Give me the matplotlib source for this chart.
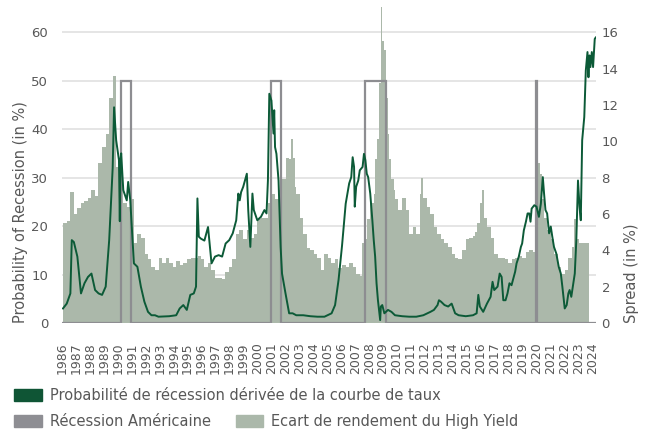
import matplotlib.pyplot as plt
import numpy as np
from matplotlib.patches import Patch

# probability of recession derived from the yield curve (left axis, %)
prob_years = [
    1986.07, 1986.34, 1986.6, 1986.7, 1986.85, 1987.1, 1987.36, 1987.61, 1987.86,
    1988.11, 1988.37, 1988.62, 1988.87, 1989.13, 1989.38, 1989.63, 1989.73, 1989.88,
    1990.08, 1990.14, 1990.19, 1990.24, 1990.39, 1990.64, 1990.74, 1990.89, 1991.15,
    1991.4, 1991.65, 1991.9, 1992.16, 1992.41, 1992.66, 1992.91, 1993.68, 1994.18,
    1994.43, 1994.69, 1994.94, 1995.19, 1995.44, 1995.6, 1995.7, 1995.8, 1995.95,
    1996.2, 1996.46, 1996.71, 1996.96, 1997.22, 1997.47, 1997.72, 1997.98, 1998.23,
    1998.48, 1998.63, 1998.73, 1998.83, 1998.98, 1999.24, 1999.34, 1999.49, 1999.64,
    1999.74, 1999.99, 2000.25, 2000.5, 2000.65, 2000.75, 2000.85, 2001.0, 2001.15,
    2001.2, 2001.26, 2001.36, 2001.51, 2001.66, 2001.76, 2002.01, 2002.27, 2002.52,
    2002.78, 2003.28, 2003.79, 2004.3, 2004.8, 2005.31, 2005.56, 2005.81, 2006.06,
    2006.32, 2006.57, 2006.72, 2006.82, 2006.92, 2006.97, 2007.07, 2007.22, 2007.33,
    2007.53, 2007.63, 2007.73, 2007.83, 2007.93, 2008.08, 2008.23, 2008.33, 2008.43,
    2008.53, 2008.63, 2008.74, 2008.79, 2008.84, 2008.94, 2009.09, 2009.35, 2009.6,
    2009.85, 2010.37, 2010.87, 2011.38, 2011.88, 2012.39, 2012.64, 2012.9, 2013.0,
    2013.15, 2013.4, 2013.66, 2013.91, 2014.16, 2014.41, 2014.92, 2015.44, 2015.7,
    2015.82, 2015.93, 2016.17, 2016.44, 2016.7, 2016.84, 2016.96, 2017.2, 2017.35,
    2017.49, 2017.61, 2017.77, 2017.91, 2018.05, 2018.2, 2018.46, 2018.56, 2018.72,
    2018.87, 2018.96, 2019.08, 2019.23, 2019.35, 2019.47, 2019.56, 2019.64, 2019.83,
    2019.99, 2020.16, 2020.3, 2020.44, 2020.53, 2020.63, 2020.75, 2020.89, 2021.01,
    2021.12, 2021.24, 2021.41, 2021.58, 2021.73, 2021.84, 2022.01, 2022.15, 2022.27,
    2022.36, 2022.48, 2022.73, 2022.84, 2022.96, 2023.07, 2023.16, 2023.26, 2023.41,
    2023.52, 2023.64, 2023.71, 2023.78, 2023.85, 2023.95, 2024.04, 2024.16, 2024.23,
]
prob_values = [
    3.0, 4.0, 6.1, 17.1, 16.7, 13.7, 6.1, 8.2, 9.5,
    10.2, 6.8, 6.1, 5.8, 7.5, 17.1, 32.0, 44.5, 37.7,
    33.6, 21.0, 33.6, 35.0, 27.4, 25.3, 29.1, 25.3, 12.3,
    11.6, 7.5, 4.4, 2.3, 1.6, 1.6, 1.3, 1.4, 1.6,
    3.0, 3.7, 2.7, 5.8, 6.1, 7.5, 25.7, 17.8, 17.4,
    17.0, 19.8, 12.3, 13.7, 14.0, 13.7, 16.4, 17.1, 18.5,
    21.2, 26.7, 25.3, 27.0, 28.1, 30.8, 23.3, 15.7, 26.7,
    23.3, 21.2, 21.9, 23.3, 22.6, 29.4, 47.3, 45.9, 39.1,
    43.9, 36.3, 34.9, 29.4, 15.7, 10.2, 6.1, 2.0, 2.0,
    1.6, 1.6, 1.4, 1.3, 1.3, 2.0, 3.7, 8.9, 16.0,
    24.6, 28.8, 30.1, 34.2, 32.2, 24.0, 28.1, 29.4, 31.5,
    32.2, 34.9, 33.6, 30.8, 30.1, 26.7, 21.2, 17.1, 13.7,
    8.2, 4.7, 2.0, 0.6, 3.4, 3.7, 2.0, 2.7, 2.3,
    1.6, 1.4, 1.3, 1.3, 1.6, 2.3, 2.7, 3.7, 4.7,
    4.4, 3.7, 3.4, 4.0, 2.0, 1.6, 1.4, 1.6, 2.0,
    5.8, 3.4, 2.3, 4.0, 5.4, 8.5, 6.8, 7.5, 10.2,
    9.5, 4.7, 4.7, 6.1, 8.2, 7.8, 10.6, 12.3, 13.7,
    15.7, 16.4, 19.1, 20.9, 22.6, 22.6, 20.9, 23.6, 24.3,
    24.0, 21.9, 24.6, 30.1, 26.7, 23.3, 22.6, 18.5, 19.9,
    17.8, 15.7, 14.3, 11.6, 10.2, 7.5, 3.0, 3.7, 6.1,
    6.8, 5.4, 10.2, 17.1, 29.4, 24.0, 21.2, 37.7, 42.5,
    52.1, 55.9, 50.7, 55.2, 52.8, 55.9, 52.8, 58.6, 58.9,
]

# high yield spread (right axis, %)
spread_years = [
    1986.07, 1986.33, 1986.59, 1986.84, 1987.09, 1987.35, 1987.6, 1987.85, 1988.1,
    1988.36, 1988.61, 1988.87, 1989.12, 1989.37, 1989.63, 1989.88, 1990.13, 1990.38,
    1990.64, 1990.89, 1991.14, 1991.4, 1991.65, 1991.91, 1992.16, 1992.41, 1992.67,
    1992.92, 1993.17, 1993.43, 1993.68, 1993.94, 1994.19, 1994.44, 1994.7, 1994.95,
    1995.21, 1995.46, 1995.71, 1995.97, 1996.19, 1996.44, 1996.69, 1996.94, 1997.2,
    1997.45, 1997.7, 1997.95, 1998.21, 1998.46, 1998.71, 1998.96, 1999.23, 1999.48,
    1999.73, 1999.98, 2000.24, 2000.49, 2000.74, 2000.99, 2001.26, 2001.51, 2001.66,
    2001.76, 2002.01, 2002.27, 2002.37, 2002.52, 2002.67, 2002.77, 2003.02, 2003.28,
    2003.53, 2003.78, 2004.03, 2004.29, 2004.54, 2004.79, 2005.04, 2005.3, 2005.55,
    2005.8, 2006.06, 2006.31, 2006.56, 2006.82, 2007.07, 2007.32, 2007.52, 2007.68,
    2007.83, 2008.08, 2008.33, 2008.43, 2008.59, 2008.74, 2008.84, 2008.89, 2008.94,
    2009.09, 2009.24, 2009.35, 2009.45, 2009.6, 2009.75, 2009.85, 2010.1, 2010.36,
    2010.61, 2010.86, 2011.11, 2011.37, 2011.62, 2011.72, 2011.87, 2012.13, 2012.38,
    2012.63, 2012.88, 2013.14, 2013.39, 2013.64, 2013.9, 2014.15, 2014.4, 2014.65,
    2014.91, 2015.16, 2015.41, 2015.57, 2015.7, 2015.93, 2016.05, 2016.22, 2016.44,
    2016.7, 2016.97, 2017.2, 2017.5, 2017.73, 2017.97, 2018.22, 2018.47, 2018.73,
    2018.97, 2019.24, 2019.48, 2019.74, 2019.93, 2020.12, 2020.24, 2020.36, 2020.5,
    2020.74, 2021.0, 2021.26, 2021.5, 2021.77, 2022.03, 2022.27, 2022.51, 2022.7,
    2022.82, 2023.03, 2023.27, 2023.46,
]
spread_values = [
    5.5, 5.6, 7.2, 6.0, 6.3, 6.6, 6.7, 6.9, 7.3,
    7.0, 8.8, 9.7, 10.4, 12.4, 13.6, 8.6, 8.0, 6.6,
    6.4, 6.8, 4.4, 4.9, 4.7, 3.8, 3.5, 3.1, 2.9,
    3.6, 3.3, 3.6, 3.3, 3.1, 3.4, 3.2, 3.3, 3.5,
    3.6, 3.6, 3.7, 3.5, 3.1, 3.3, 2.9, 2.5, 2.5,
    2.4, 2.8, 3.1, 3.5, 4.9, 5.1, 4.6, 5.1, 4.7,
    4.9, 5.7, 5.8, 5.8, 6.6, 7.1, 6.8, 7.3, 7.1,
    7.9, 9.1, 9.0, 10.1, 9.1, 7.5, 7.1, 5.8, 4.9,
    4.1, 4.0, 3.8, 3.6, 2.9, 3.8, 3.6, 3.3, 3.5,
    3.0, 3.2, 3.1, 3.3, 3.1, 2.7, 2.6, 4.4, 4.6,
    5.7, 6.6, 7.1, 9.0, 10.1, 13.2, 17.4, 16.6, 15.5,
    15.0, 12.4, 10.4, 9.0, 7.9, 7.3, 6.8, 6.2, 6.9,
    6.2, 4.9, 5.3, 4.9, 7.1, 8.0, 6.9, 6.4, 6.0,
    5.3, 4.9, 4.6, 4.4, 4.2, 3.8, 3.6, 3.5, 4.0,
    4.6, 4.7, 4.8, 5.0, 5.5, 6.6, 7.3, 5.8, 5.3,
    4.7, 3.8, 3.6, 3.6, 3.5, 3.3, 3.5, 3.6, 3.7,
    3.6, 3.9, 4.0, 3.9, 3.9, 8.8, 8.2, 6.8, 5.8,
    5.1, 4.6, 3.8, 3.1, 2.7, 2.9, 3.6, 4.2, 5.7,
    4.6, 4.4, 4.4, 4.4,
]
spread_end = 2023.73

# US recessions, drawn at the level 50 of the left axis
recession_start = [1990.2, 2000.96, 2007.73, 2019.95]
recession_end = [1990.96, 2001.68, 2009.24, 2020.02]
recession_level = 50

year_labels = list(range(1986, 2025))

green = '#0c5a37'
grey = '#8d8d91'
sage = '#abb8aa'
text_col = '#585858'

plt.rcParams['font.family'] = 'DejaVu Sans'

fig = plt.figure(figsize=(6.48, 4.32), dpi=100)
ax = fig.add_axes([62 / 648, 109 / 432, 534 / 648, 317 / 432])
ax_spread = ax.twinx()
ax_prob = ax.twinx()

# spread bars
widths = np.diff(spread_years + [spread_end])
ax_spread.bar(spread_years, spread_values, width=widths, align='edge',
              color=sage, linewidth=0)

# recession step line
rec_x = [prob_years[0]]
rec_y = [0]
for s, e in zip(recession_start, recession_end):
    rec_x += [s, s, e, e]
    rec_y += [0, recession_level, recession_level, 0]
rec_x.append(prob_years[-1])
rec_y.append(0)
ax_prob.plot(rec_x, rec_y, color=grey, lw=1.6, solid_joinstyle='miter')

ax_prob.plot(prob_years, prob_values, color=green, lw=1.4)

ax.set_xlim(1986.0, 2024.25)
ax.set_ylim(0, 65.4)
ax_prob.set_ylim(0, 65.4)
ax_spread.set_ylim(0, 17.44)

for a in (ax, ax_spread, ax_prob):
    for sp in a.spines.values():
        sp.set_visible(False)

ax.set_yticks(range(0, 61, 10))
ax.yaxis.grid(True, color='#dedede', lw=1.1)
ax.set_xticks(year_labels)
ax.set_xticklabels([str(y) for y in year_labels], rotation=90)
ax.tick_params(axis='x', length=0, pad=14, labelsize=9, labelcolor=text_col)
ax.tick_params(axis='y', length=0, pad=10, labelsize=9.5, labelcolor=text_col)

ax_spread.set_yticks(range(0, 17, 2))
ax_spread.tick_params(axis='y', length=0, pad=4, labelsize=9.5, labelcolor=text_col)
ax_prob.yaxis.set_visible(False)

ax.set_ylabel('Probability of Recession (in %)', loc='bottom', fontsize=10.5, color=text_col)
ax.yaxis.set_label_coords(-0.063, 0)
ax_spread.set_ylabel('Spread (in %)', loc='bottom', fontsize=10.5, color=text_col)
ax_spread.yaxis.set_label_coords(1.052, 0)

leg1 = fig.legend(handles=[Patch(color='#0f5535')],
                  labels=['Probabilité de récession dérivée de la courbe de taux'],
                  loc='upper left', bbox_to_anchor=(14 / 648, 1 - 388 / 432),
                  frameon=False, fontsize=10.5, borderpad=0, borderaxespad=0,
                  handlelength=1.9, handleheight=0.95, handletextpad=0.55,
                  labelcolor=text_col)
leg2 = fig.legend(handles=[Patch(color='#8e8e93'), Patch(color=sage)],
                  labels=['Récession Américaine', 'Ecart de rendement du High Yield'],
                  loc='upper left', bbox_to_anchor=(14 / 648, 1 - 414 / 432),
                  ncol=2, frameon=False, fontsize=10.5, borderpad=0, borderaxespad=0,
                  handlelength=1.9, handleheight=0.95, handletextpad=0.55,
                  columnspacing=1.7, labelcolor=text_col)

fig.savefig('out.png', dpi=100)
